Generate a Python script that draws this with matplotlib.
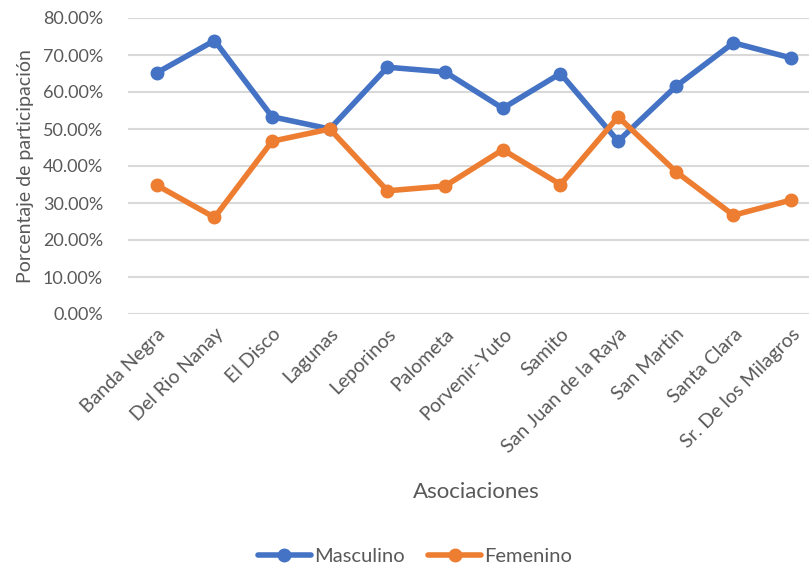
import matplotlib
matplotlib.use("Agg")
import matplotlib.pyplot as plt
from matplotlib.ticker import FuncFormatter

categorias = ["Banda Negra", "Del Rio Nanay", "El Disco", "Lagunas", "Leporinos",
              "Palometa", "Porvenir-Yuto", "Samito", "San Juan de la Raya",
              "San Martin", "Santa Clara", "Sr. De los Milagros"]
masculino = [65.2, 73.9, 53.3, 50.0, 66.7, 65.4, 55.6, 65.0, 46.7, 61.5, 73.3, 69.2]
femenino = [34.8, 26.1, 46.7, 50.0, 33.3, 34.6, 44.4, 35.0, 53.3, 38.5, 26.7, 30.8]
yticks = [0, 10, 20, 30, 40, 50, 60, 70, 80]

plt.rcParams['font.family'] = ['Lato', 'DejaVu Sans']
gray = "#595959"

fig = plt.figure(figsize=(8.09, 5.69), dpi=100)
ax = fig.add_axes([128/809, 1 - 314/569, (809-128)/809, (314-18)/569])

x = list(range(len(categorias)))
ax.plot(x, masculino, color="#4472C4", lw=4, marker="o", ms=9, label="Masculino",
        solid_capstyle="round", zorder=3)
ax.plot(x, femenino, color="#ED7D31", lw=4, marker="o", ms=9, label="Femenino",
        solid_capstyle="round", zorder=3)

ax.set_ylim(0, 80)
ax.set_xlim(-0.5, 11.31)
ax.set_yticks(yticks)
ax.yaxis.set_major_formatter(FuncFormatter(lambda v, p: f"{v:.2f}%"))
ax.grid(axis="y", color="#D9D9D9", lw=1.5)
ax.set_axisbelow(True)
for s in ax.spines.values():
    s.set_visible(False)
ax.tick_params(axis="both", length=0, colors=gray, labelsize=13)
ax.tick_params(axis="y", pad=18)
ax.set_xticks(x)
ax.set_xticklabels(categorias, rotation=45, ha="right", rotation_mode="anchor",
                   fontsize=14)
ax.tick_params(axis="x", pad=8)

ax.set_ylabel("Porcentaje de participación", color=gray, fontsize=14, labelpad=6)
fig.text(476/809, 1 - 492/569, "Asociaciones", color=gray, fontsize=16,
         ha="center", va="center")

leg = fig.legend(loc="center", bbox_to_anchor=(415/809, 1 - 556/569), ncol=2,
                 frameon=False, fontsize=14.5, handlelength=2.6, handletextpad=0.15,
                 columnspacing=1.2, labelcolor=gray)

fig.savefig("out.png", dpi=100)
